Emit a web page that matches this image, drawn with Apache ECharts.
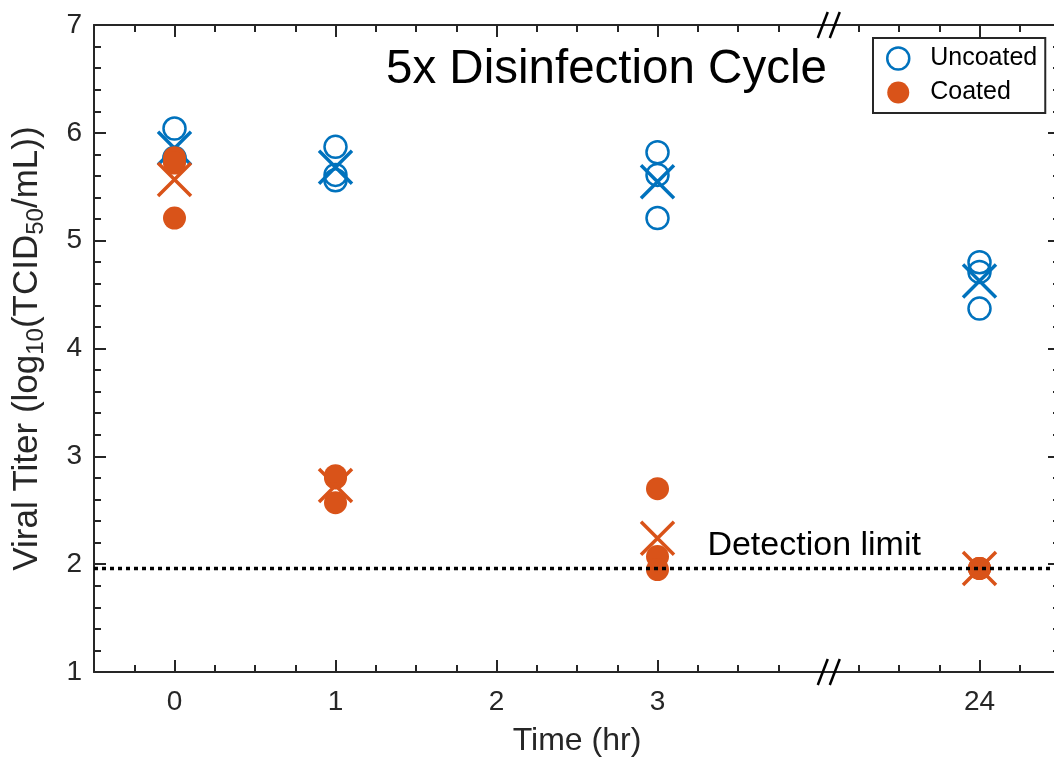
<!DOCTYPE html>
<html>
<head>
<meta charset="utf-8">
<script src="https://cdn.jsdelivr.net/npm/echarts@6/dist/echarts.min.js"></script>
<style>
html, body { margin: 0; padding: 0; background: #fff; }
#chart { width: 1054px; height: 759px; }
</style>
</head>
<body>
<div id="chart"></div>
<script>
// time points are drawn on a compressed axis: 24 hr sits at position 5
var timePos = [0, 1, 3, 5];
var xTickPos = [0, 1, 2, 3, 5];
var xTickText = ['0', '1', '2', '3', '24'];
var yTicks = [1, 2, 3, 4, 5, 6, 7];

// replicate titers, log10(TCID50/mL), one row per time point
var uncoated = [
    [6.04, 5.77, 5.76],
    [5.87, 5.61, 5.56],
    [5.82, 5.61, 5.21],
    [4.80, 4.71, 4.37]
];
var coated = [
    [5.77, 5.72, 5.21],
    [2.82, 2.80, 2.57],
    [2.70, 2.07, 1.95],
    [1.96, 1.96, 1.96]
];
var detectionLimit = 1.96;

var BLUE = '#0072BD';
var ORANGE = '#D95319';
var AXIS = '#262626';
var FONT = 'Helvetica, Arial, "Liberation Sans", sans-serif';
var breakAt = 4.07;

function points(rows) {
    var out = [];
    rows.forEach(function (r, i) {
        r.forEach(function (v) { out.push([timePos[i], v]); });
    });
    return out;
}
function means(rows) {
    return rows.map(function (r, i) {
        var s = 0;
        r.forEach(function (v) { s += v; });
        return [timePos[i], s / r.length];
    });
}

var quarterTicks = [];
for (var k = -1; k <= 21; k++) {
    if (k * 0.25 !== 4) quarterTicks.push(k * 0.25);
}

var crossPath = 'path://M0,0L10,10M10,0L0,10';

function xAxisDef(pos, ticks, len, showLine, showLabel) {
    return {
        type: 'value',
        position: pos,
        min: -0.5,
        max: 5.5,
        splitLine: { show: false },
        axisLine: { show: showLine, onZero: false, lineStyle: { color: AXIS, width: 2 } },
        axisTick: { show: true, inside: true, length: len, customValues: ticks, lineStyle: { color: AXIS, width: 2 } },
        axisLabel: showLabel ? {
            show: true,
            customValues: xTickPos,
            margin: 16,
            fontSize: 28,
            color: AXIS,
            fontFamily: FONT,
            formatter: function (v) {
                var i = xTickPos.indexOf(v);
                return i < 0 ? '' : xTickText[i];
            }
        } : { show: false }
    };
}

function yAxisDef(pos, showLabel) {
    return {
        type: 'value',
        position: pos,
        min: 1,
        max: 7,
        interval: 1,
        splitLine: { show: false },
        axisLine: { show: true, onZero: false, lineStyle: { color: AXIS, width: 2 } },
        axisTick: { show: true, inside: true, length: 12, lineStyle: { color: AXIS, width: 2 } },
        minorTick: { show: true, splitNumber: 5, length: 7, lineStyle: { color: AXIS, width: 2 } },
        axisLabel: { show: showLabel, margin: 12, fontSize: 28, color: AXIS, fontFamily: FONT }
    };
}

var chart = echarts.init(document.getElementById('chart'));

var xMain = xAxisDef('bottom', quarterTicks, 7, true, true);
xMain.name = 'Time (hr)';
xMain.nameLocation = 'middle';
xMain.nameGap = 53;
xMain.nameTextStyle = { fontSize: 32, color: AXIS, fontFamily: FONT };

var yMain = yAxisDef('left', true);
yMain.name = 'Viral Titer (log{s|10}(TCID{s|50}/mL))';
yMain.nameLocation = 'middle';
yMain.nameGap = 46;
yMain.nameTextStyle = {
    fontSize: 35, color: AXIS, fontFamily: FONT,
    rich: { s: { fontSize: 24, color: AXIS, fontFamily: FONT, verticalAlign: 'bottom', padding: [18, 0, 0, 0] } }
};

var option = {
    animation: false,
    textStyle: { fontFamily: FONT },
    grid: { left: 94, top: 25, width: 966, height: 647, containLabel: false, outerBoundsMode: 'none' },
    title: {
        text: '5x Disinfection Cycle',
        left: 386,
        top: 46,
        padding: 0,
        textStyle: { fontSize: 47.5, fontWeight: 'normal', color: '#000', fontFamily: FONT }
    },
    legend: {
        orient: 'vertical',
        left: 873,
        top: 38,
        padding: [8, 8, 8, 13],
        itemWidth: 36,
        itemHeight: 22,
        itemGap: 9,
        borderColor: AXIS,
        borderWidth: 2,
        borderRadius: 0,
        backgroundColor: '#fff',
        textStyle: { fontSize: 25, color: '#000', fontFamily: FONT, padding: [0, 0, 0, 9] },
        data: [
            { name: 'Uncoated', icon: 'circle', itemStyle: { color: '#fff', borderColor: BLUE, borderWidth: 2.5 } },
            { name: 'Coated', icon: 'circle', itemStyle: { color: ORANGE, borderWidth: 0 } }
        ]
    },
    xAxis: [
        xMain,
        xAxisDef('bottom', [0, 1, 2, 3, 5], 12, false, false),
        xAxisDef('top', quarterTicks, 7, true, false),
        xAxisDef('top', [0, 1, 2, 3, 5], 12, false, false)
    ],
    yAxis: [yMain, yAxisDef('right', false)],
    series: [
        {
            name: 'Uncoated',
            type: 'scatter',
            symbol: 'circle',
            symbolSize: 22,
            itemStyle: { color: 'rgba(255,255,255,0)', borderColor: BLUE, borderWidth: 2.5, opacity: 1 },
            data: points(uncoated),
            z: 2
        },
        {
            name: 'Uncoated mean',
            type: 'scatter',
            symbol: crossPath,
            symbolSize: 33,
            itemStyle: { color: 'none', borderColor: BLUE, borderWidth: 3.5, opacity: 1 },
            data: means(uncoated),
            z: 3
        },
        {
            name: 'Coated',
            type: 'scatter',
            symbol: 'circle',
            symbolSize: 23,
            itemStyle: { color: ORANGE, opacity: 1 },
            data: points(coated),
            z: 4
        },
        {
            name: 'Coated mean',
            type: 'scatter',
            symbol: crossPath,
            symbolSize: 33,
            itemStyle: { color: 'none', borderColor: ORANGE, borderWidth: 3.5, opacity: 1 },
            data: means(coated),
            z: 5
        },
        {
            name: 'Detection limit',
            type: 'line',
            symbol: 'none',
            silent: true,
            lineStyle: { color: '#000', width: 3.5, type: [4, 4] },
            data: [[-0.5, detectionLimit], [5.5, detectionLimit]],
            z: 6
        }
    ]
};
chart.setOption(option);

// axis break marks and the detection limit note
var bTop = chart.convertToPixel({ xAxisIndex: 0, yAxisIndex: 0 }, [breakAt, 7]);
var bBot = chart.convertToPixel({ xAxisIndex: 0, yAxisIndex: 0 }, [breakAt, 1]);
var note = chart.convertToPixel({ xAxisIndex: 0, yAxisIndex: 0 }, [3.31, 2.17]);

function breakMarks(p) {
    return [-7, 5].map(function (dx) {
        return {
            type: 'line',
            shape: { x1: p[0] + dx - 5, y1: p[1] + 13, x2: p[0] + dx + 5, y2: p[1] - 13 },
            style: { stroke: '#000', lineWidth: 2.5 },
            z: 100
        };
    });
}

chart.setOption({
    graphic: breakMarks(bTop).concat(breakMarks(bBot)).concat([{
        type: 'text',
        x: note[0],
        y: note[1],
        style: { text: 'Detection limit', fontSize: 34, fill: '#000', fontFamily: FONT, verticalAlign: 'middle' },
        z: 100
    }])
});
</script>
</body>
</html>
